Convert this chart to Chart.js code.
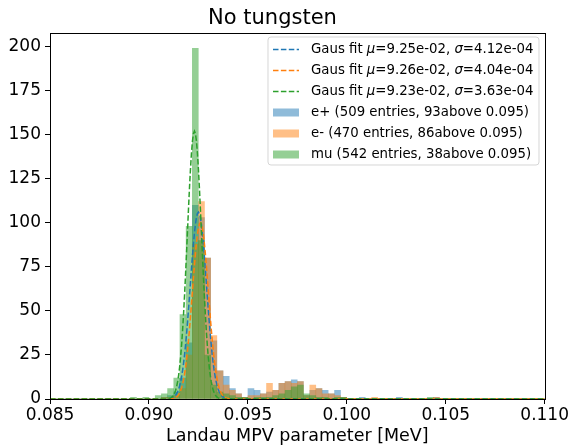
<!DOCTYPE html>
<html>
<head>
<meta charset="utf-8">
<script src="https://cdn.jsdelivr.net/npm/chart.js@4.4.0/dist/chart.umd.min.js"></script>
<style>
  html, body { margin: 0; padding: 0; background: #fff; }
</style>
</head>
<body>
<canvas id="mpvChart" width="570" height="445"></canvas>
<script>
// 80 bins from 0.085 to 0.110
const binLow = 0.085;
const binWidth = 0.0003125;
const xTicks = [0.085, 0.090, 0.095, 0.100, 0.105, 0.110];
const yTicks = [0, 25, 50, 75, 100, 125, 150, 175, 200];

// bin counts, index = bin number
const ePlusCounts = [
  0, 0, 0, 0, 0, 0, 0, 0, 0, 0,
  0, 0, 0, 0, 0, 0, 0, 0, 1, 2,
  4, 12, 32, 110, 103, 80, 33, 16, 13, 6,
  3, 1, 6, 5, 3, 4, 5, 9, 10, 11,
  10, 2, 5, 6, 5, 3, 5, 1, 0, 0,
  1, 0, 0, 0, 0, 0, 1, 0, 0, 0,
  0, 0, 1, 0, 0, 0, 0, 0, 0, 0,
  0, 0, 0, 0, 0, 0, 0, 0, 0, 0
];
const eMinusCounts = [
  0, 0, 0, 0, 0, 0, 0, 0, 0, 0,
  0, 0, 0, 0, 0, 0, 0, 0, 1, 1,
  2, 6, 25, 88, 112, 80, 36, 16, 8, 5,
  3, 1, 2, 2, 3, 9, 5, 9, 10, 9,
  10, 2, 8, 6, 3, 3, 2, 1, 0, 0,
  0, 0, 1, 0, 0, 0, 0, 0, 0, 0,
  0, 0, 1, 0, 0, 0, 0, 0, 0, 0,
  0, 0, 0, 0, 0, 0, 0, 0, 0, 0
];
const muCounts = [
  0, 0, 0, 0, 0, 0, 0, 0, 0, 0,
  0, 0, 0, 1, 0, 1, 0, 2, 3, 6,
  12, 48, 98, 199, 90, 25, 8, 4, 3, 2,
  1, 1, 0, 1, 1, 1, 2, 3, 5, 7,
  8, 3, 2, 1, 1, 0, 1, 1, 0, 0,
  0, 0, 0, 0, 0, 0, 0, 0, 0, 0,
  0, 1, 0, 0, 0, 0, 0, 0, 0, 0,
  0, 0, 0, 0, 0, 0, 0, 0, 0, 0
];

const seriesNames = ['e+', 'e-', 'mu'];
const seriesEntries = [509, 470, 542];
const seriesAbove = [93, 86, 38];

// gaussian fit parameters from the legend (amplitude)
const fitMu = [9.25e-2, 9.26e-2, 9.23e-2];
const fitSigma = [4.12e-4, 4.04e-4, 3.63e-4];
const fitAmp = [106, 100, 152];

const lineColors = ['#1f77b4', '#ff7f0e', '#2ca02c'];
const fillColors = ['rgba(31,119,180,0.5)', 'rgba(255,127,14,0.5)', 'rgba(44,160,44,0.5)'];
const FONT = "'DejaVu Sans', sans-serif";

function binPoints(counts) {
    return counts.map((c, i) => ({ x: binLow + (i + 0.5) * binWidth, y: c }));
}

// fitted model curve, sampled across the axis range
function fitCurve(k) {
    const pts = [];
    for (let i = 0; i <= 500; i++) {
        const x = 0.085 + i * 0.025 / 500;
        const d = (x - fitMu[k]) / fitSigma[k];
        pts.push({ x: x, y: fitAmp[k] * Math.exp(-0.5 * d * d) });
    }
    return pts;
}

function sci(v) {
    let [m, e] = v.toExponential(2).split('e');
    const sign = e[0] === '-' ? '-' : '+';
    e = e.replace(/[+-]/, '');
    return m + 'e' + sign + (e.length < 2 ? '0' + e : e);
}

const histCounts = [ePlusCounts, eMinusCounts, muCounts];
const datasets = [];
for (let k = 0; k < 3; k++) {
    datasets.push({
        type: 'line',
        label: 'fit' + k,
        data: fitCurve(k),
        borderColor: lineColors[k],
        borderWidth: 1.5,
        borderDash: [5.5, 2.4],
        pointRadius: 0,
        fill: false,
        order: 2 - k // green line on top
    });
}
for (let k = 0; k < 3; k++) {
    datasets.push({
        type: 'bar',
        label: seriesNames[k],
        data: binPoints(histCounts[k]),
        backgroundColor: fillColors[k],
        borderWidth: 0,
        barPercentage: 1,
        categoryPercentage: 1,
        inflateAmount: 0.2,
        grouped: false,
        order: 12 - k // mu drawn last among bars
    });
}

// matplotlib style frame + in-plot legend
const frameAndLegend = {
    id: 'frameAndLegend',
    afterDraw(chart) {
        const ctx = chart.ctx;
        const a = chart.chartArea;
        ctx.save();
        ctx.strokeStyle = '#000';
        ctx.lineWidth = 1;
        ctx.strokeRect(Math.round(a.left) + 0.5, Math.round(a.top) + 0.5,
            Math.round(a.right - a.left), Math.round(a.bottom - a.top));

        // legend box
        const bx = 268, by = 37, bw = 271, bh = 128, r = 3;
        ctx.beginPath();
        ctx.moveTo(bx + r, by);
        ctx.arcTo(bx + bw, by, bx + bw, by + bh, r);
        ctx.arcTo(bx + bw, by + bh, bx, by + bh, r);
        ctx.arcTo(bx, by + bh, bx, by, r);
        ctx.arcTo(bx, by, bx + bw, by, r);
        ctx.closePath();
        ctx.fillStyle = 'rgba(255,255,255,0.8)';
        ctx.fill();
        ctx.strokeStyle = 'rgba(204,204,204,0.8)';
        ctx.stroke();

        const rowY = [49.5, 70.5, 91.5, 112.5, 133.5, 154.5];
        const size = 13.3;
        ctx.textBaseline = 'middle';
        ctx.fillStyle = '#000';
        for (let k = 0; k < 3; k++) {
            const y = rowY[k];
            ctx.setLineDash([5.5, 2.4]);
            ctx.lineWidth = 1.5;
            ctx.strokeStyle = lineColors[k];
            ctx.beginPath();
            ctx.moveTo(273, y);
            ctx.lineTo(299, y);
            ctx.stroke();
            ctx.setLineDash([]);
            // text pieces with italic mu / sigma
            const parts = [
                ['Gaus fit ', false], ['\u03bc', true], ['=' + sci(fitMu[k]) + ', ', false],
                ['\u03c3', true], ['=' + sci(fitSigma[k]), false]
            ];
            let x = 311;
            for (const [txt, it] of parts) {
                ctx.font = (it ? 'italic ' : '') + size + 'px ' + FONT;
                ctx.fillText(txt, x, y);
                x += ctx.measureText(txt).width;
            }
        }
        ctx.font = size + 'px ' + FONT;
        for (let k = 0; k < 3; k++) {
            const y = rowY[k + 3];
            ctx.fillStyle = fillColors[k];
            ctx.fillRect(273, y - 4, 26, 8);
            ctx.fillStyle = '#000';
            ctx.fillText(seriesNames[k] + ' (' + seriesEntries[k] + ' entries, ' +
                seriesAbove[k] + 'above 0.095)', 311, y);
        }
        ctx.restore();
    }
};

const ctx = document.getElementById('mpvChart').getContext('2d');
const mpvChart = new Chart(ctx, {
    type: 'bar',
    data: { datasets: datasets },
    options: {
        responsive: false,
        animation: false,
        layout: { padding: { left: 0, right: 25, top: 0, bottom: 0 } },
        plugins: {
            legend: { display: false },
            tooltip: { enabled: false },
            title: {
                display: true,
                text: 'No tungsten',
                color: '#000',
                font: { family: FONT, size: 21, weight: 'normal' },
                padding: { top: 6, bottom: 2 }
            }
        },
        scales: {
            x: {
                type: 'linear',
                min: 0.085,
                max: 0.110,
                offset: false,
                afterBuildTicks: s => { s.ticks = xTicks.map(v => ({ value: v })); },
                afterFit: s => { s.height = 46; },
                ticks: {
                    callback: v => Number(v).toFixed(3),
                    color: '#000',
                    font: { family: FONT, size: 17 },
                    padding: 1,
                    maxRotation: 0,
                    autoSkip: false
                },
                grid: { display: true, offset: false, drawOnChartArea: false, tickLength: 5, tickColor: '#000' },
                border: { display: true, color: '#000' },
                title: {
                    display: true,
                    text: 'Landau MPV parameter [MeV]',
                    color: '#000',
                    font: { family: FONT, size: 17.5 },
                    padding: { top: 0, bottom: -2 }
                }
            },
            y: {
                min: 0,
                max: 207.5,
                afterBuildTicks: s => { s.ticks = yTicks.map(v => ({ value: v })); },
                afterFit: s => { s.width = 50; },
                ticks: {
                    color: '#000',
                    font: { family: FONT, size: 17 },
                    padding: 4
                },
                grid: { display: true, drawOnChartArea: false, tickLength: 5, tickColor: '#000' },
                border: { display: true, color: '#000' }
            }
        }
    },
    plugins: [frameAndLegend]
});
</script>
</body>
</html>
